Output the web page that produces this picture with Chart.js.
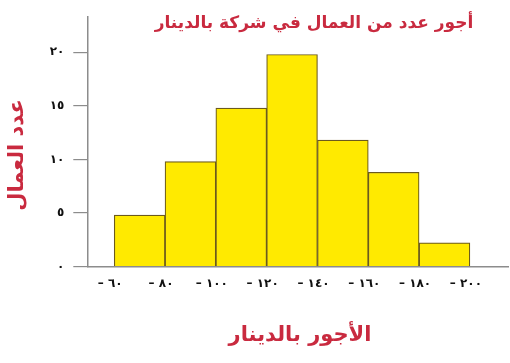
<!DOCTYPE html>
<html lang="ar">
<head>
<meta charset="utf-8">
<script src="https://cdn.jsdelivr.net/npm/chart.js@4/dist/chart.umd.min.js"></script>
<style>
  html, body { margin: 0; padding: 0; background: #fff; }
  #wrap { width: 510px; height: 363px; position: relative; }
</style>
</head>
<body>
<div id="wrap"><canvas id="c" width="510" height="363"></canvas></div>
<script>
// Wage class boundaries (dinars) and number of workers in each class
const wageBounds = [60, 80, 100, 120, 140, 160, 180, 200];
const workerCounts = [4.8, 9.8, 14.8, 19.8, 11.8, 8.8, 2.2];
const countTicks = [0, 5, 10, 15, 20];

const chartTitle = 'أجور عدد من العمال في شركة بالدينار';
const xTitle = 'الأجور بالدينار';
const yTitle = 'عدد العمال';

const arabicDigits = ['٠','١','٢','٣','٤','٥','٦','٧','٨','٩'];
const toArabic = n => String(n).replace(/[0-9]/g, d => arabicDigits[+d]);

// Each bar spans one class, centred between its two boundaries
const bars = workerCounts.map((v, i) => ({
  x: (wageBounds[i] + wageBounds[i + 1]) / 2,
  y: v
}));

const RED = '#c92a3f';
const AXIS = '#8c8c8c';
const TICKFONT = { family: 'DejaVu Sans', size: 12, weight: 'bold' };

const titlesPlugin = {
  id: 'titles',
  afterDraw(chart) {
    const ctx = chart.ctx;
    ctx.save();
    ctx.fillStyle = RED;
    ctx.textBaseline = 'middle';
    ctx.textAlign = 'center';
    ctx.direction = 'rtl';
    ctx.font = 'bold 17px "DejaVu Sans"';
    ctx.fillText(chartTitle, 314, 24);
    ctx.font = 'bold 21px "DejaVu Sans"';
    ctx.fillText(xTitle, 300, 336);
    ctx.translate(18, 155);
    ctx.rotate(-Math.PI / 2);
    ctx.fillText(yTitle, 0, 0);
    ctx.restore();
  }
};

new Chart(document.getElementById('c'), {
  type: 'bar',
  data: {
    datasets: [{
      data: bars,
      backgroundColor: '#ffea00',
      borderColor: '#6b5a1e',
      borderWidth: 1.2,
      barPercentage: 1,
      categoryPercentage: 1
    }]
  },
  plugins: [titlesPlugin],
  options: {
    responsive: false,
    animation: false,
    layout: { padding: { top: 17, right: 2, left: 0, bottom: 0 } },
    plugins: {
      legend: { display: false },
      tooltip: { enabled: false }
    },
    scales: {
      x: {
        type: 'linear',
        offset: false,
        min: 49.4,
        max: 215,
        afterBuildTicks(scale) { scale.ticks = wageBounds.map(v => ({ value: v })); },
        afterFit(scale) { scale.height = 96.5; },
        border: { color: AXIS, width: 1.5 },
        grid: { display: false, drawTicks: false, offset: false },
        ticks: {
          color: '#111',
          font: TICKFONT,
          padding: 10,
          labelOffset: -4,
          maxRotation: 0,
          autoSkip: false,
          callback: v => '– ' + toArabic(v)
        }
      },
      y: {
        min: 0,
        max: 23.3,
        afterBuildTicks(scale) { scale.ticks = countTicks.map(v => ({ value: v })); },
        afterFit(scale) { scale.width = 87.3; },
        border: { color: AXIS, width: 1.5 },
        grid: { drawOnChartArea: false, color: AXIS, tickLength: 14, lineWidth: 1.2 },
        ticks: {
          color: '#111',
          font: TICKFONT,
          padding: 9,
          callback: v => toArabic(v)
        }
      }
    }
  }
});
</script>
</body>
</html>
